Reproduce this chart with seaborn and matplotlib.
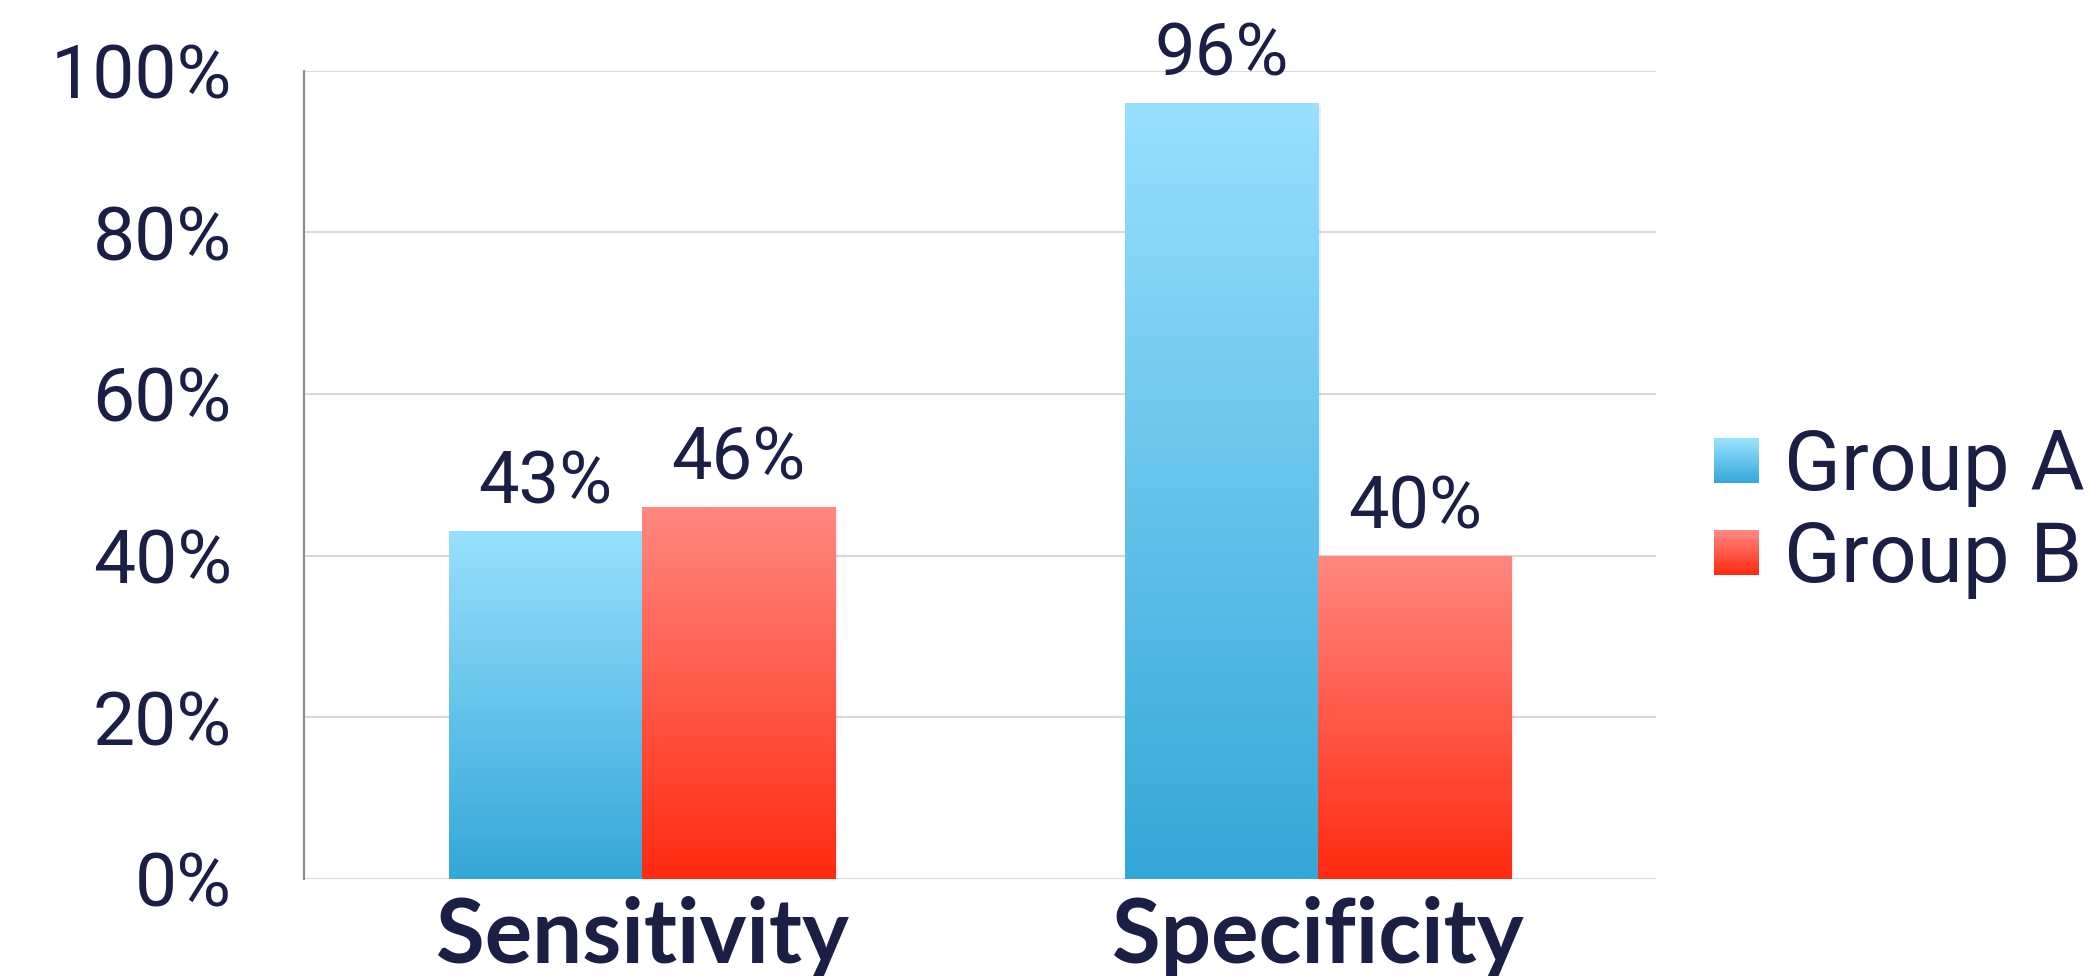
import numpy as np
import pandas as pd
import seaborn as sns
import matplotlib.pyplot as plt
import matplotlib.patheffects as pe
from matplotlib.patches import Rectangle
from matplotlib.legend_handler import HandlerBase
from matplotlib.colors import LinearSegmentedColormap

# chart values
metrics = ['Sensitivity', 'Specificity']
groups = ['Group A', 'Group B']
group_a = [43, 96]
group_b = [46, 40]
y_ticks = [0, 20, 40, 60, 80, 100]

navy = '#1b1f45'
grad_colors = {
    'Group A': ('#99e0fe', '#34a7d8'),
    'Group B': ('#ff8880', '#ff2a10'),
}

data = pd.DataFrame({
    'metric': metrics * 2,
    'group': [groups[0]] * 2 + [groups[1]] * 2,
    'value': group_a + group_b,
})

sns.set_style('white')
plt.rcParams['font.family'] = ['Roboto', 'DejaVu Sans']

fig = plt.figure(figsize=(20.91, 9.76), dpi=100)
ax = fig.add_axes([0.1454, 0.0994, 0.6466, 0.8282])

sns.barplot(data=data, x='metric', y='value', hue='group', order=metrics,
            hue_order=groups, width=0.572, ax=ax, legend=False,
            palette=[grad_colors[g][0] for g in groups])

# swap the flat bar fill for a vertical gradient (bar keeps a soft shadow)
for container, g in zip(ax.containers, groups):
    top, bottom = grad_colors[g]
    cmap = LinearSegmentedColormap.from_list(g, [bottom, top])
    for bar, val in zip(container, container.datavalues):
        x0, y0 = bar.get_x(), bar.get_y()
        w, h = bar.get_width(), bar.get_height()
        bar.set_facecolor('white')
        bar.set_edgecolor('none')
        bar.set_path_effects([pe.SimplePatchShadow(offset=(2, -2), alpha=0.12,
                                                   shadow_rgbFace='gray'),
                              pe.Normal()])
        grad = np.linspace(0, 1, 256).reshape(-1, 1)
        im = ax.imshow(grad, cmap=cmap, origin='lower', aspect='auto',
                       extent=(x0, x0 + w, y0, y0 + h), zorder=2)
        im.set_clip_path(bar)
        ax.text(x0 + w / 2, y0 + h + 3.4, f'{val:.0f}%', ha='center',
                va='baseline', fontsize=52, color=navy, zorder=4)

ax.set_xlim(-0.5, 1.5)
ax.set_ylim(0, 100)
ax.set_yticks(y_ticks)
ax.set_yticklabels([f'{t}%' for t in y_ticks])
ax.yaxis.grid(True, color='#d9d9d9', linewidth=1.5, zorder=0)
ax.set_axisbelow(True)
ax.set_xlabel('')
ax.set_ylabel('')

for s in ['top', 'right', 'bottom']:
    ax.spines[s].set_visible(False)
ax.spines['left'].set_color('#8c8c8c')
ax.spines['left'].set_linewidth(1.5)

ax.tick_params(axis='y', direction='out', length=17, width=1.5,
               color='#8c8c8c', labelsize=54, labelcolor=navy, pad=35)
ax.tick_params(axis='x', length=0, pad=12)
for lab in ax.get_xticklabels():
    lab.set_fontfamily(['Lato', 'DejaVu Sans'])
    lab.set_fontweight('bold')
    lab.set_fontsize(64)
    lab.set_color(navy)


class GradientHandler(HandlerBase):
    def create_artists(self, legend, orig_handle, xdescent, ydescent,
                       width, height, fontsize, trans):
        top, bottom = orig_handle
        cmap = LinearSegmentedColormap.from_list('h', [bottom, top])
        side = 32.4
        n = 24
        x0 = -xdescent + (width - side) / 2
        y0 = -ydescent + (height - side) / 2
        arts = []
        for i in range(n):
            arts.append(Rectangle((x0, y0 + side * i / n), side, side / n + 0.2,
                                  facecolor=cmap(i / (n - 1)),
                                  edgecolor='none', transform=trans))
        return arts


handles = [grad_colors[g] for g in groups]
leg = fig.legend(handles, groups, handler_map={tuple: GradientHandler()},
                 loc='center left', bbox_to_anchor=(0.8197, 0.4744),
                 frameon=False, fontsize=60, labelcolor=navy,
                 handlelength=0.54, handletextpad=0.3, labelspacing=0.14,
                 borderpad=0, borderaxespad=0)

fig.savefig('out.png', dpi=100)
